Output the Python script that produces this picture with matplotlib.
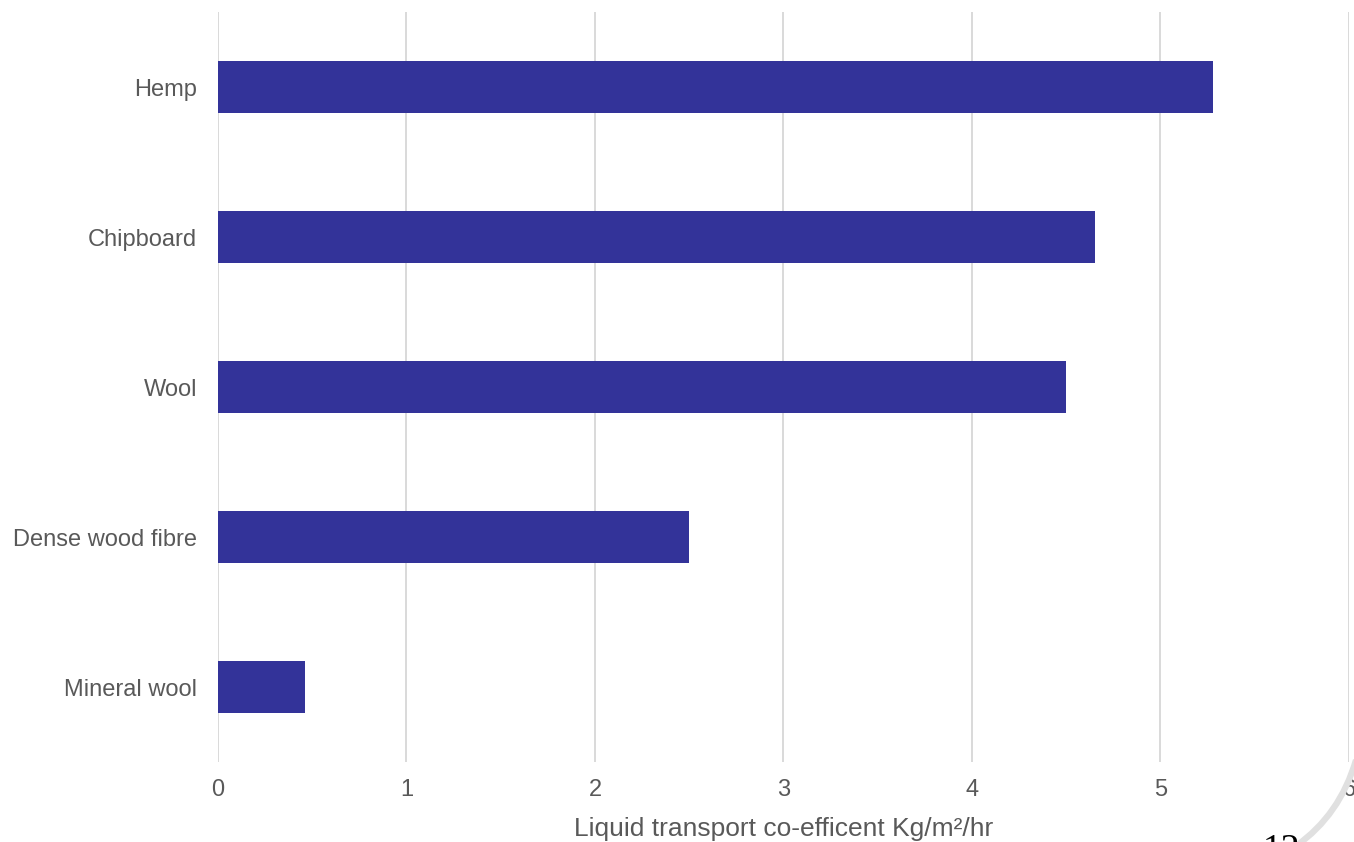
import matplotlib
matplotlib.use("Agg")
import matplotlib.pyplot as plt
from matplotlib.path import Path
from matplotlib.patches import PathPatch

materials = ["Hemp", "Chipboard", "Wool", "Dense wood fibre", "Mineral wool"]
coefficients = [5.28, 4.65, 4.50, 2.50, 0.46]
x_ticks = [0, 1, 2, 3, 4, 5, 6]

BAR_COLOR = "#333399"
TEXT_COLOR = "#595959"
GRID_COLOR = "#d9d9d9"


def main():
    plt.rcParams.update(
        {
            "font.family": ["Liberation Sans", "DejaVu Sans"],
            "font.size": 17,
        }
    )

    fig = plt.figure(figsize=(13.54, 8.42), dpi=100)
    ax = fig.add_axes([0.161, 0.095, 0.8353, 0.8907])

    y_pos = list(range(len(materials)))
    ax.barh(y_pos, coefficients, height=0.35, color=BAR_COLOR, zorder=3)

    ax.set_ylim(len(materials) - 0.5, -0.5)
    ax.set_xlim(0, 6)
    ax.set_yticks(y_pos)
    ax.set_yticklabels(materials, color=TEXT_COLOR, fontsize=17)
    ax.set_xticks(x_ticks)
    ax.set_xticklabels([str(t) for t in x_ticks], color=TEXT_COLOR, fontsize=17)

    ax.grid(axis="x", color=GRID_COLOR, linewidth=1.4, zorder=0)
    ax.tick_params(axis="both", length=0)
    ax.tick_params(axis="x", pad=12)
    ax.tick_params(axis="y", pad=15)
    for spine in ax.spines.values():
        spine.set_visible(False)

    ax.set_xlabel("Liquid transport co-efficent Kg/m²/hr", color=TEXT_COLOR,
                  fontsize=19, labelpad=12)

    # page curl and page number in the corner
    w, h = 1354, 842
    verts = [(1356 / w, 1 - 760 / h), (1340 / w, 1 - 815 / h), (1296 / w, 1 - 846 / h)]
    curl = Path(verts, [Path.MOVETO, Path.CURVE3, Path.CURVE3])
    fig.add_artist(PathPatch(curl, transform=fig.transFigure, fill=False,
                             edgecolor="#e0e0e0", linewidth=4.5))
    fig.text(1263 / w, 1 - 834 / h, "12", family="Liberation Serif",
             fontsize=27, color="black", va="top", ha="left")

    fig.savefig("out.png", dpi=100)


if __name__ == "__main__":
    main()
